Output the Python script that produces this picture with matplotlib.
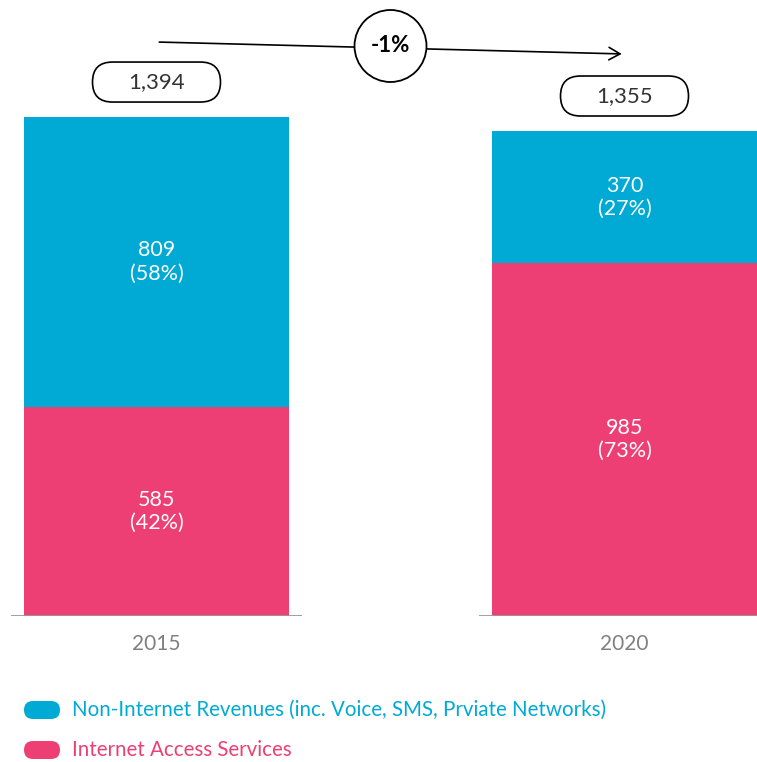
import matplotlib
matplotlib.use('Agg')
import matplotlib.pyplot as plt
from matplotlib.patches import FancyBboxPatch, Circle

plt.rcParams['font.family'] = ['Lato', 'DejaVu Sans']

# data
years = ['2015', '2020']
internet = [585, 985]
non_internet = [809, 370]
change_label = '-1%'

blue = '#00AAD4'
pink = '#EE3F74'
W, H = 757, 762

totals = [a + b for a, b in zip(internet, non_internet)]
x = [0, 1]
bw = 0.566

fig = plt.figure(figsize=(W / 100, H / 100), dpi=100)
ax = fig.add_axes([0, 146 / H, 1, 616 / H])
ax.set_xlim(-0.3344, 1.2831)
ax.set_ylim(0, 1721)
for s in ax.spines.values():
    s.set_visible(False)
ax.set_yticks([])

ax.bar(x, internet, width=bw, color=pink, zorder=2)
ax.bar(x, non_internet, width=bw, bottom=internet, color=blue, zorder=2)

# baseline under each bar
pad = 13 / 468
for xi in x:
    ax.hlines(0, xi - bw / 2 - pad, xi + bw / 2 + pad, color='#999999', lw=1.3, zorder=3)

ax.set_xticks(x)
ax.set_xticklabels(years, fontsize=15, color='#808080')
ax.tick_params(axis='x', length=0, pad=13)

# segment labels
for xi, a, b, t in zip(x, internet, non_internet, totals):
    ax.text(xi, a / 2, f'{a}\n({a / t * 100:.0f}%)', ha='center', va='center',
            color='white', fontsize=15.5, linespacing=1.2)
    ax.text(xi, a + b / 2, f'{b}\n({b / t * 100:.0f}%)', ha='center', va='center',
            color='white', fontsize=15.5, linespacing=1.2)

# overlay in pixel coords for pills, arrow and legend
ov = fig.add_axes([0, 0, 1, 1])
ov.set_xlim(0, W)
ov.set_ylim(H, 0)
ov.axis('off')

def to_px(xd, yd):
    px, py = ax.transData.transform((xd, yd))
    return px, H - py

centers = []
for xi, t in zip(x, totals):
    cx, top = to_px(xi, t)
    cy = top - 35
    centers.append(cx)
    ov.add_patch(FancyBboxPatch((cx - 64, cy - 20), 128, 40,
                                boxstyle='round,pad=0,rounding_size=20',
                                fc='white', ec='black', lw=1.2))
    ov.text(cx, cy, f'{t:,}', ha='center', va='center', fontsize=16, color='#333333')

# growth arrow
ov.annotate('', xy=(centers[1], 54), xytext=(centers[0], 42),
            arrowprops=dict(arrowstyle='->,head_length=0.8,head_width=0.45',
                            color='black', lw=1.2))
mx = (centers[0] + centers[1]) / 2
ov.add_patch(Circle((mx, 46), 36, fc='white', ec='black', lw=1.3, zorder=3))
ov.text(mx, 46, change_label, ha='center', va='center', fontsize=16,
        fontweight='bold', color='black', zorder=4)

# legend
legend_items = [('Non-Internet Revenues (inc. Voice, SMS, Prviate Networks)', blue),
                ('Internet Access Services', pink)]
for i, (lab, col) in enumerate(legend_items):
    ly = 710 + i * 40
    ov.add_patch(FancyBboxPatch((24, ly - 9), 36, 18,
                                boxstyle='round,pad=0,rounding_size=9',
                                fc=col, ec='none'))
    ov.text(72, ly, lab, ha='left', va='center', fontsize=14.8, color=col)

fig.savefig('out.png', dpi=100)
